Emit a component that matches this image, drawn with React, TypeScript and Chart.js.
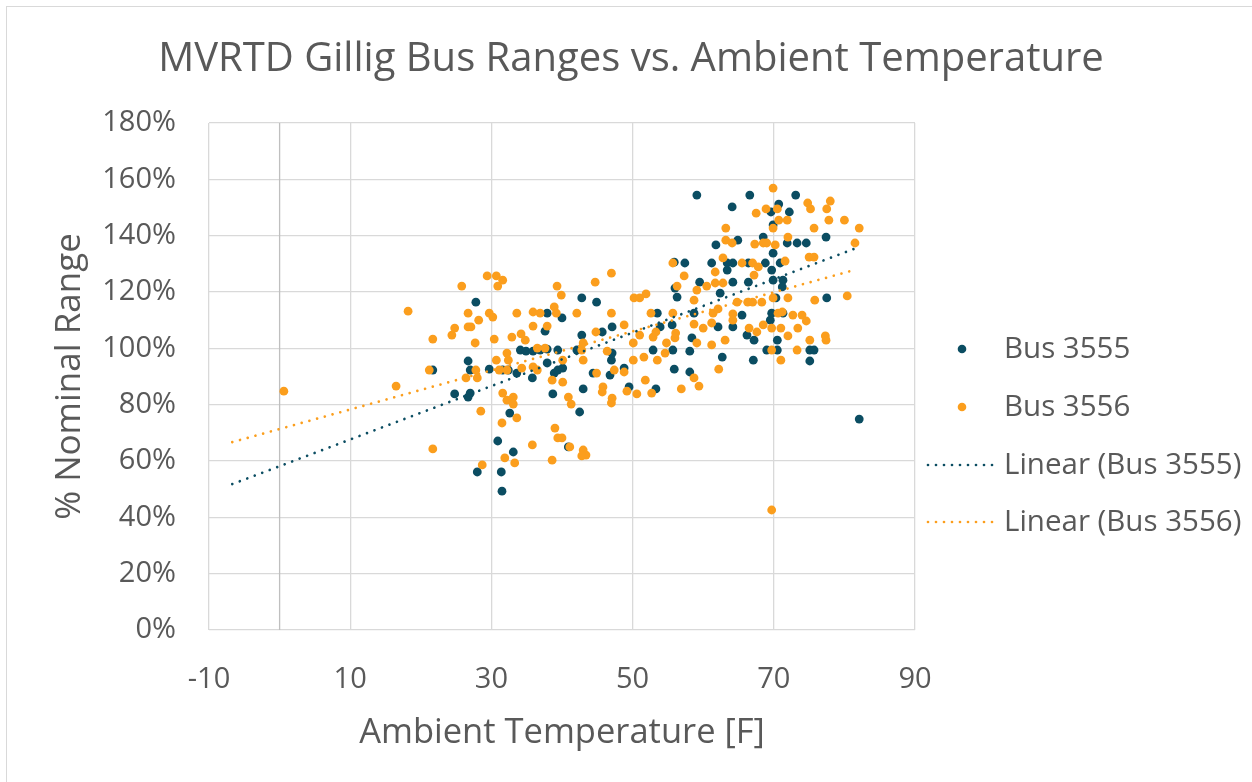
import React, { useEffect, useRef } from "react";
import { Chart, registerables } from "chart.js";

Chart.register(...registerables);

const chartTitle = "MVRTD Gillig Bus Ranges vs. Ambient Temperature";
const xAxisTitle = "Ambient Temperature [F]";
const yAxisTitle = "% Nominal Range";
const seriesNames = ["Bus 3555", "Bus 3556", "Linear (Bus 3555)", "Linear (Bus 3556)"];

// [ambient temperature °F, % nominal range]
const bus3555: [number, number][] = [
  [21.7, 92.3], [24.8, 83.8], [26.7, 82.7], [27.0, 84.1], [26.7, 95.5], [27.0, 92.3], [27.8, 116.4],
  [28.0, 56.1], [29.7, 92.6], [30.9, 67.1], [31.4, 56.1], [31.5, 49.3], [31.6, 92.3], [32.4, 92.3],
  [32.6, 77.0], [33.1, 63.2], [33.6, 91.2], [34.1, 99.4], [34.9, 99.0], [35.9, 99.0], [36.9, 99.4],
  [37.9, 99.7], [35.8, 89.5], [37.6, 106.1], [37.9, 112.5], [37.9, 94.8], [38.7, 83.8], [38.9, 91.2],
  [39.4, 99.4], [39.4, 92.3], [40.0, 110.8], [40.1, 93.0], [40.9, 65.0], [42.1, 99.4], [42.5, 77.4],
  [42.8, 117.9], [42.8, 104.7], [43.0, 85.6], [44.4, 91.2], [44.9, 116.4], [45.7, 105.8], [47.0, 95.8],
  [47.1, 107.6], [46.8, 90.5], [47.1, 98.3], [48.8, 93.0], [49.5, 86.3], [52.9, 99.4], [53.3, 85.6],
  [53.5, 112.5], [53.9, 107.6], [55.6, 108.3], [55.7, 99.4], [55.9, 92.6], [55.9, 130.6], [57.4, 130.3],
  [56.0, 121.4], [56.3, 118.2], [58.1, 99.0], [58.1, 91.6], [58.4, 103.7], [58.7, 112.5], [59.1, 154.4],
  [59.5, 123.5], [61.2, 130.3], [61.8, 136.7], [62.1, 107.6], [62.4, 119.6], [62.7, 96.9], [63.4, 127.8],
  [63.4, 130.3], [64.2, 130.3], [64.2, 123.5], [64.1, 150.2], [64.2, 107.6], [64.9, 138.4], [65.5, 111.8],
  [66.2, 104.7], [66.4, 130.3], [66.4, 123.5], [66.6, 154.4], [67.1, 95.8], [67.2, 102.9], [68.5, 139.5],
  [68.8, 130.3], [69.0, 99.4], [69.5, 110.0], [69.6, 148.4], [69.7, 127.8], [69.7, 112.5], [69.9, 143.8],
  [69.9, 133.8], [69.9, 124.2], [70.3, 117.9], [70.5, 102.9], [70.5, 99.4], [70.7, 151.2], [70.9, 130.3],
  [71.3, 124.2], [71.2, 121.8], [71.3, 112.5], [71.9, 137.4], [72.2, 148.4], [73.1, 154.4], [73.3, 137.4],
  [74.6, 137.4], [75.1, 99.4], [75.7, 99.4], [75.1, 95.5], [77.4, 139.5], [77.5, 117.9], [82.1, 74.9],
];

const bus3556: [number, number][] = [
  [0.6, 84.8], [16.5, 86.6], [18.2, 113.2], [21.7, 64.3], [21.2, 92.3], [21.7, 103.3], [24.4, 104.7],
  [24.8, 107.2], [25.8, 122.1], [26.7, 107.6], [27.1, 107.6], [26.7, 112.5], [28.2, 110.0], [27.7, 101.9],
  [27.8, 92.3], [28.0, 89.5], [26.4, 89.5], [28.5, 77.7], [28.7, 58.6], [29.4, 125.7], [30.7, 125.7],
  [31.6, 124.2], [30.9, 122.1], [29.7, 112.5], [30.2, 111.1], [30.4, 103.3], [30.7, 95.8], [31.1, 92.3],
  [32.2, 98.3], [32.2, 92.3], [32.4, 95.8], [31.6, 84.1], [32.2, 81.6], [33.1, 82.7], [33.1, 80.2],
  [31.5, 73.5], [33.6, 75.3], [31.9, 61.1], [33.3, 59.3], [32.9, 104.0], [34.2, 105.1], [34.8, 102.9],
  [33.6, 112.5], [35.9, 112.9], [36.9, 112.5], [35.9, 107.9], [37.9, 107.9], [38.9, 114.7], [39.3, 122.1],
  [39.9, 118.9], [39.2, 112.5], [36.5, 100.1], [37.6, 100.1], [34.3, 93.0], [35.9, 93.4], [36.5, 92.3],
  [38.6, 88.7], [40.1, 88.0], [40.1, 95.8], [35.8, 65.7], [39.0, 71.7], [39.4, 68.2], [40.0, 68.2],
  [41.1, 65.0], [38.6, 60.3], [43.0, 63.9], [43.4, 62.1], [42.8, 61.8], [40.9, 82.7], [41.3, 80.2],
  [42.1, 112.5], [42.8, 99.4], [43.0, 95.8], [43.0, 101.9], [44.7, 123.5], [44.9, 91.2], [44.8, 105.8],
  [45.8, 86.3], [45.7, 84.5], [46.4, 99.0], [47.0, 126.7], [47.0, 112.5], [47.4, 92.3], [47.1, 82.3],
  [47.0, 80.6], [48.8, 108.3], [48.8, 91.6], [49.2, 84.8], [50.6, 83.8], [50.1, 95.8], [51.6, 96.9],
  [53.5, 95.8], [50.2, 117.9], [51.0, 117.9], [51.9, 119.3], [51.0, 104.7], [50.1, 101.9], [52.9, 104.0],
  [53.3, 105.8], [52.6, 112.5], [51.8, 88.7], [52.7, 84.1], [54.6, 98.3], [54.8, 101.9], [56.0, 103.7],
  [56.1, 105.4], [55.7, 112.5], [55.7, 130.3], [56.9, 85.6], [57.3, 125.7], [56.3, 122.1], [58.7, 89.5],
  [59.4, 86.6], [58.7, 108.6], [59.1, 101.9], [59.1, 120.7], [58.7, 117.1], [60.0, 107.2], [60.5, 122.1],
  [61.2, 109.0], [61.2, 101.2], [61.7, 127.1], [61.7, 123.2], [61.4, 112.5], [62.1, 114.0], [62.2, 92.6],
  [62.8, 132.1], [62.8, 123.2], [63.1, 102.9], [63.2, 142.7], [63.2, 138.4], [64.1, 137.4], [64.2, 112.2],
  [64.2, 110.0], [64.8, 116.4], [65.5, 130.3], [66.3, 116.4], [66.5, 107.2], [67.0, 130.3], [67.0, 116.4],
  [67.2, 126.0], [67.3, 137.0], [67.5, 148.0], [67.6, 105.8], [67.8, 128.9], [68.3, 116.4], [68.5, 137.4],
  [68.5, 108.3], [68.9, 149.5], [69.0, 137.4], [69.7, 107.2], [69.7, 99.4], [69.7, 42.6], [69.9, 156.9],
  [69.9, 142.7], [69.9, 117.9], [70.2, 136.7], [70.5, 149.5], [70.6, 112.5], [70.7, 145.5], [71.0, 107.2],
  [71.0, 95.8], [71.2, 112.9], [71.6, 131.0], [71.9, 145.5], [72.0, 139.5], [72.0, 117.9], [72.0, 104.4],
  [72.7, 111.8], [73.3, 99.4], [73.4, 107.2], [74.0, 111.8], [74.6, 109.7], [74.8, 151.6], [75.2, 149.5],
  [75.0, 132.4], [75.7, 132.4], [75.7, 142.7], [75.8, 117.1], [75.1, 102.9], [77.3, 104.4], [77.4, 102.9],
  [77.5, 149.5], [78.0, 152.3], [77.8, 145.5], [80.0, 145.5], [80.4, 118.6], [81.5, 137.4], [82.1, 142.7],
];

// Trendline endpoints
const trend3555: [number, number][] = [[-6.7, 51.8], [82.1, 136.0]];
const trend3556: [number, number][] = [[-6.7, 66.7], [81.4, 127.8]];

const xTicks = [-10, 10, 30, 50, 70, 90];
const yTicks = [0, 20, 40, 60, 80, 100, 120, 140, 160, 180];

const TEAL = "#0B4D62";
const ORANGE = "#FB9E1D";
const TEXT = "#595959";
const GRID = "#D9D9D9";
const FONT = "'Open Sans', 'Noto Sans', sans-serif";

const toPts = (arr: [number, number][]) => arr.map(([x, y]) => ({ x, y }));

export default function App() {
  const ref = useRef<HTMLCanvasElement>(null);

  useEffect(() => {
    const canvas = ref.current;
    if (!canvas) return;

    const decor = {
      id: "decor",
      beforeDraw(chart: any) {
        const { ctx } = chart;
        ctx.save();
        ctx.fillStyle = "#ffffff";
        ctx.fillRect(0, 0, chart.width, chart.height);
        ctx.restore();
      },
      beforeDatasetsDraw(chart: any) {
        const { ctx, chartArea, scales } = chart;
        const x0 = scales.x.getPixelForValue(0);
        ctx.save();
        ctx.strokeStyle = "#BFBFBF";
        ctx.lineWidth = 1.3;
        ctx.beginPath();
        ctx.moveTo(x0, chartArea.top);
        ctx.lineTo(x0, chartArea.bottom);
        ctx.stroke();
        ctx.restore();
      },
      afterDraw(chart: any) {
        const { ctx } = chart;
        ctx.save();
        // frame
        ctx.strokeStyle = "#D9D9D9";
        ctx.lineWidth = 1;
        ctx.strokeRect(6.5, 6.5, 1400, 1000);
        // title
        ctx.fillStyle = TEXT;
        ctx.font = `40px ${FONT}`;
        ctx.textAlign = "center";
        ctx.textBaseline = "middle";
        ctx.fillText(chartTitle, 631, 60);
        // legend
        ctx.font = `29.5px ${FONT}`;
        ctx.textAlign = "left";
        const rows = [349, 407, 465, 522];
        const colors = [TEAL, ORANGE, TEAL, ORANGE];
        rows.forEach((y, i) => {
          ctx.fillStyle = colors[i];
          ctx.strokeStyle = colors[i];
          if (i < 2) {
            ctx.beginPath();
            ctx.arc(962, y, 4.3, 0, Math.PI * 2);
            ctx.fill();
          } else {
            ctx.save();
            ctx.lineWidth = 2.7;
            ctx.lineCap = "round";
            ctx.setLineDash([0.001, 8]);
            ctx.beginPath();
            ctx.moveTo(928, y);
            ctx.lineTo(998, y);
            ctx.stroke();
            ctx.restore();
          }
          ctx.fillStyle = TEXT;
          ctx.fillText(seriesNames[i], 1004, y + 1);
        });
        ctx.restore();
      },
    };

    const chart = new Chart(canvas, {
      type: "scatter",
      data: {
        datasets: [
          {
            label: seriesNames[0],
            data: toPts(bus3555),
            backgroundColor: TEAL,
            borderColor: TEAL,
            borderWidth: 0,
            pointRadius: 4.4,
            order: 4,
          },
          {
            label: seriesNames[1],
            data: toPts(bus3556),
            backgroundColor: ORANGE,
            borderColor: ORANGE,
            borderWidth: 0,
            pointRadius: 4.4,
            order: 3,
          },
          {
            label: seriesNames[2],
            data: toPts(trend3555),
            showLine: true,
            borderColor: TEAL,
            backgroundColor: TEAL,
            borderWidth: 2.7,
            borderCapStyle: "round",
            borderDash: [0.001, 8],
            pointRadius: 0,
            order: 2,
          },
          {
            label: seriesNames[3],
            data: toPts(trend3556),
            showLine: true,
            borderColor: ORANGE,
            backgroundColor: ORANGE,
            borderWidth: 2.7,
            borderCapStyle: "round",
            borderDash: [0.001, 8],
            pointRadius: 0,
            order: 1,
          },
        ] as any,
      },
      options: {
        responsive: false,
        animation: false,
        events: [],
        layout: { padding: { left: 0, top: 123, right: 337, bottom: 22 } },
        plugins: {
          legend: { display: false },
          title: { display: false },
          tooltip: { enabled: false },
        },
        scales: {
          x: {
            type: "linear",
            min: xTicks[0],
            max: xTicks[xTicks.length - 1],
            afterBuildTicks: (s: any) => {
              s.ticks = xTicks.map((v) => ({ value: v }));
            },
            afterFit: (s: any) => {
              s.height = 130;
            },
            ticks: {
              color: TEXT,
              font: { family: FONT, size: 29 },
              padding: 32,
              maxRotation: 0,
              autoSkip: false,
            },
            grid: { color: GRID, lineWidth: 1.3, drawTicks: false },
            border: { display: false },
            title: {
              display: true,
              text: xAxisTitle,
              color: TEXT,
              font: { family: FONT, size: 34.5 },
              padding: { top: 0, bottom: 6 },
            },
          },
          y: {
            type: "linear",
            min: yTicks[0],
            max: yTicks[yTicks.length - 1],
            afterBuildTicks: (s: any) => {
              s.ticks = yTicks.map((v) => ({ value: v }));
            },
            afterFit: (s: any) => {
              s.width = 209;
            },
            ticks: {
              color: TEXT,
              font: { family: FONT, size: 29 },
              padding: 33,
              autoSkip: false,
              callback: (v: any) => `${v}%`,
            },
            grid: { color: GRID, lineWidth: 1.3, drawTicks: false },
            border: { display: false },
            title: {
              display: true,
              text: yAxisTitle,
              color: TEXT,
              font: { family: FONT, size: 35 },
              padding: { top: 49, bottom: 0 },
            },
          },
        },
      },
      plugins: [decor],
    } as any);

    return () => chart.destroy();
  }, []);

  return (
    <div style={{ position: "fixed", left: 0, top: 0, width: 1252, height: 782, background: "#fff" }}>
      <canvas ref={ref} width={1252} height={782} style={{ display: "block" }} />
    </div>
  );
}
